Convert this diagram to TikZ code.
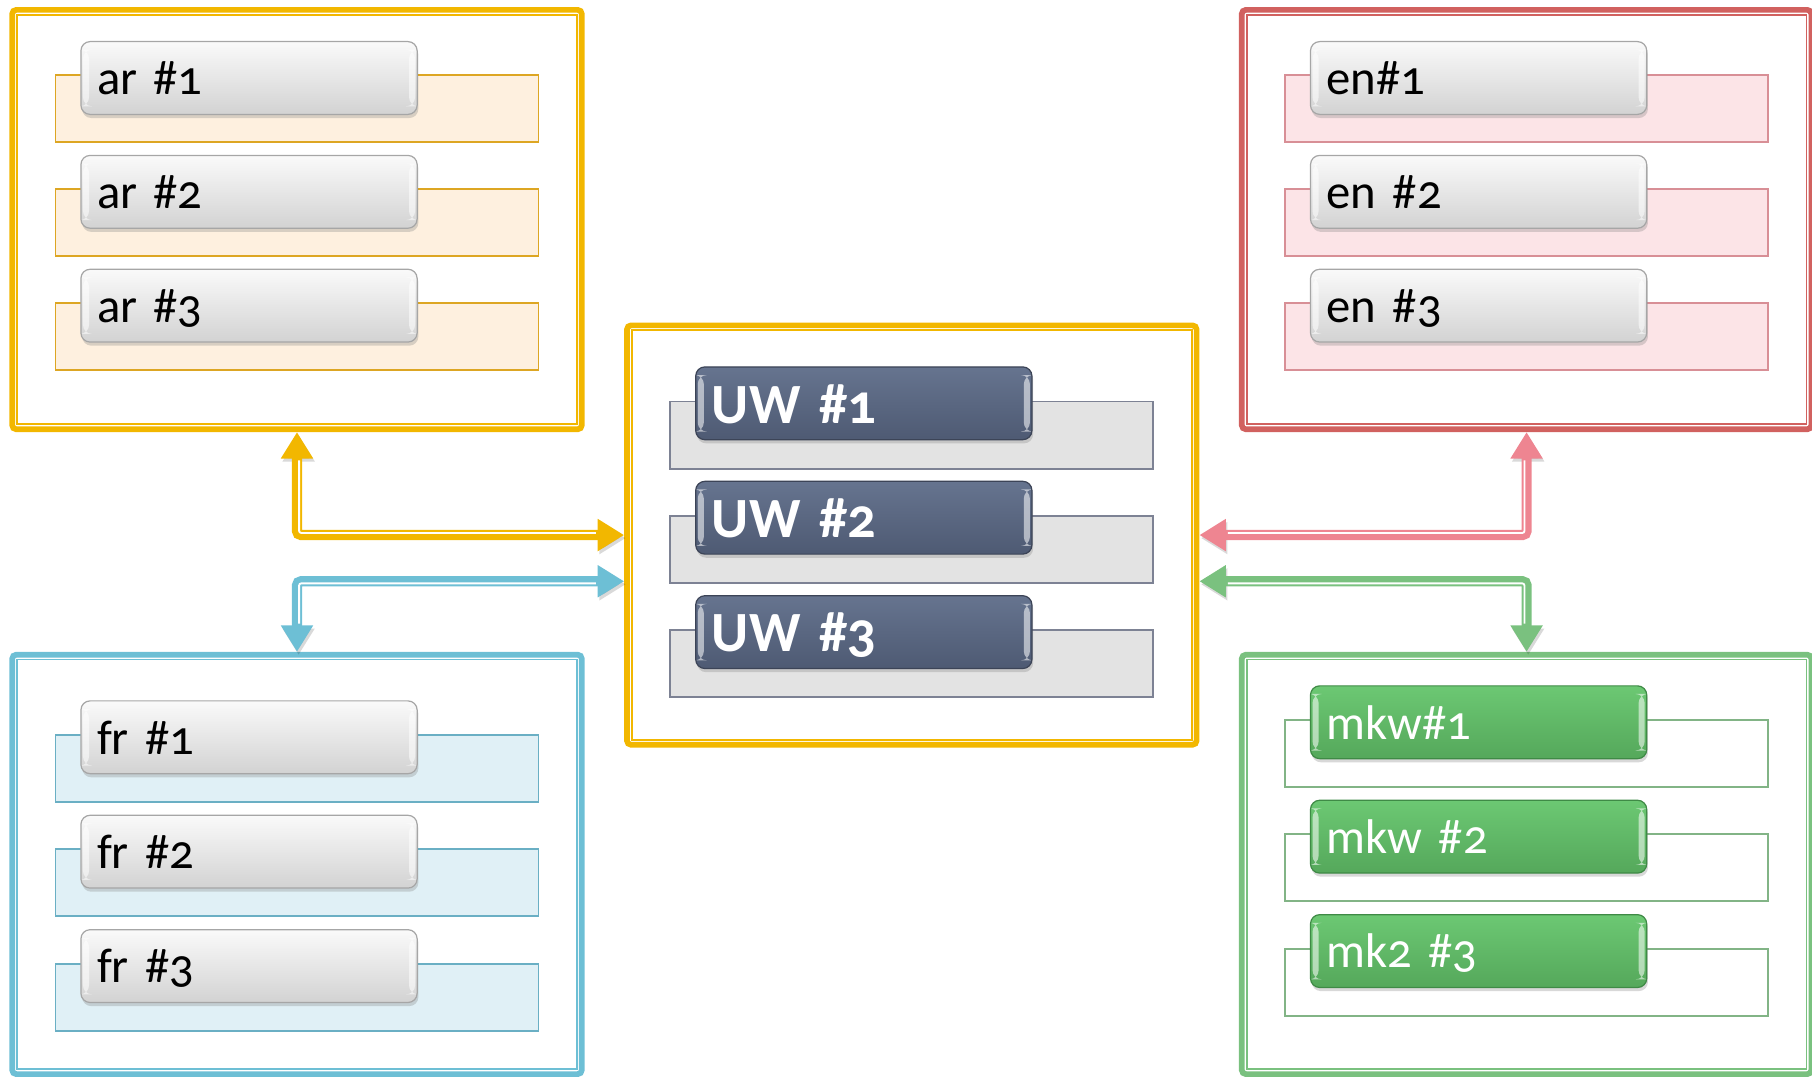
\documentclass[tikz,border=0pt]{standalone}
\usepackage{fontspec}
\setmainfont{Carlito}[Numbers=OldStyle]
\usetikzlibrary{arrows.meta,shadows}

\definecolor{gold}{HTML}{F2B700}
\definecolor{rosso}{HTML}{D1615F}
\definecolor{rosa}{HTML}{EE8591}
\definecolor{azzurro}{HTML}{6DBFD5}
\definecolor{verde}{HTML}{7AC17F}
\definecolor{arfill}{HTML}{FEF0DF}
\definecolor{arline}{HTML}{DDA623}
\definecolor{enfill}{HTML}{FCE4E7}
\definecolor{enline}{HTML}{D88F96}
\definecolor{frfill}{HTML}{E0F0F6}
\definecolor{frline}{HTML}{6AAFC4}
\definecolor{mkline}{HTML}{82B486}
\definecolor{uwfill}{HTML}{E3E3E3}
\definecolor{uwline}{HTML}{7D8294}
\definecolor{slateT}{HTML}{66748F}
\definecolor{slateB}{HTML}{4E5A73}
\definecolor{slateD}{HTML}{3C4457}
\definecolor{greenT}{HTML}{6CC873}
\definecolor{greenB}{HTML}{55A85B}
\definecolor{greenD}{HTML}{3F8A46}

\tikzset{
  frame/.style={draw=#1, line width=2.8pt, rounded corners=2pt, minimum width=9.86cm, minimum height=7.26cm, inner sep=0pt},
  backbar/.style 2 args={fill=#1, draw=#2, line width=0.9pt, minimum width=8.36cm, minimum height=1.16cm, inner sep=0pt},
  btn/.style={rounded corners=4.5pt, line width=0.6pt, minimum height=1.26cm, text width=5.26cm, inner xsep=0.28cm, inner ysep=0pt, align=left, text height=18pt, text depth=1.5pt, font=\fontsize{24pt}{28pt}\selectfont, drop shadow={shadow xshift=0.6pt, shadow yshift=-1.8pt, opacity=0.3},
    path picture={
      \fill[white, opacity=0.55] ([shift={(1pt,-4pt)}]path picture bounding box.north west) rectangle ([shift={(4pt,4pt)}]path picture bounding box.south west);
      \fill[white, opacity=0.55] ([shift={(-4pt,-4pt)}]path picture bounding box.north east) rectangle ([shift={(-1pt,4pt)}]path picture bounding box.south east);
    }},
  silverbtn/.style={btn, draw=gray!70, top color=white!96!gray, bottom color=gray!35},
  slatebtn/.style={btn, draw=slateD, top color=slateT, bottom color=slateB, text=white, font=\fontsize{28pt}{32pt}\selectfont\bfseries, text height=21pt},
  greenbtn/.style={btn, draw=greenD, top color=greenT, bottom color=greenB, text=white},
  conn/.style={draw=#1, line width=5pt, rounded corners=2pt, <->, >={Triangle[length=13pt,width=15pt]}, preaction={draw=black, opacity=0.15, transform canvas={shift={(0.8pt,-1.5pt)}}}},
  connin/.style={draw=white, line width=0.9pt, rounded corners=1pt, shorten <=15pt, shorten >=15pt}
}

\begin{document}
\begin{tikzpicture}[x=0.02cm, y=-0.02cm]
  \useasboundingbox (0,0) rectangle (1568,932);

  % frames
  \node[frame=gold] (ar) at (257,190) {};
  \node[frame=gold] (uw) at (789,463) {};
  \node[frame=rosso] (en) at (1321,190) {};
  \node[frame=azzurro] (fr) at (257,748) {};
  \node[frame=verde] (mkw) at (1321,748) {};
  \foreach \n/\c in {ar/gold, uw/gold, en/rosso, fr/azzurro, mkw/verde}
    \draw[\c, line width=0.9pt] ([shift={(3.8pt,-3.8pt)}]\n.north west) rectangle ([shift={(-3.8pt,3.8pt)}]\n.south east);

  % bars
  \foreach \lbl [count=\i] in {ar \#1, ar \#2, ar \#3} {
    \node[backbar={arfill}{arline}] (ar-b\i) at (257,{94+98.5*(\i-1)}) {};
    \node[silverbtn] (ar-\i) at (215.5,{67.5+98.5*(\i-1)}) {\lbl};
  }
  \foreach \lbl [count=\i] in {en\#1, en \#2, en \#3} {
    \node[backbar={enfill}{enline}] (en-b\i) at (1321,{94+98.5*(\i-1)}) {};
    \node[silverbtn] (en-\i) at (1279.5,{67.5+98.5*(\i-1)}) {\lbl};
  }
  \foreach \lbl [count=\i] in {UW \#1, UW \#2, UW \#3} {
    \node[backbar={uwfill}{uwline}] (uw-b\i) at (789,{376.5+99*(\i-1)}) {};
    \node[slatebtn] (uw-\i) at (747.5,{349+99*(\i-1)}) {\lbl};
  }
  \foreach \lbl [count=\i] in {fr \#1, fr \#2, fr \#3} {
    \node[backbar={frfill}{frline}] (fr-b\i) at (257,{665+99*(\i-1)}) {};
    \node[silverbtn] (fr-\i) at (215.5,{638+99*(\i-1)}) {\lbl};
  }
  \foreach \lbl [count=\i] in {mkw\#1, mkw \#2, mk2 \#3} {
    \node[backbar={white}{mkline}] (mkw-b\i) at (1321,{652+99*(\i-1)}) {};
    \node[greenbtn] (mkw-\i) at (1279.5,{625+99*(\i-1)}) {\lbl};
  }

  % connectors
  \draw[conn=gold] (ar.south) |- (uw.west);
  \draw[connin] ([shift={(1.05pt,1.05pt)}]ar.south) |- ([shift={(1.05pt,1.05pt)}]uw.west);
  \draw[conn=azzurro] (fr.north) |- ([yshift=-0.8cm]uw.west);
  \draw[connin] ([shift={(1.05pt,-1.05pt)}]fr.north) |- ([shift={(1.05pt,-1.05pt)},yshift=-0.8cm]uw.west);
  \draw[conn=rosa] (en.south) |- (uw.east);
  \draw[connin] ([shift={(-1.05pt,1.05pt)}]en.south) |- ([shift={(-1.05pt,1.05pt)}]uw.east);
  \draw[conn=verde] (mkw.north) |- ([yshift=-0.8cm]uw.east);
  \draw[connin] ([shift={(-1.05pt,-1.05pt)}]mkw.north) |- ([shift={(-1.05pt,-1.05pt)},yshift=-0.8cm]uw.east);
\end{tikzpicture}
\end{document}
